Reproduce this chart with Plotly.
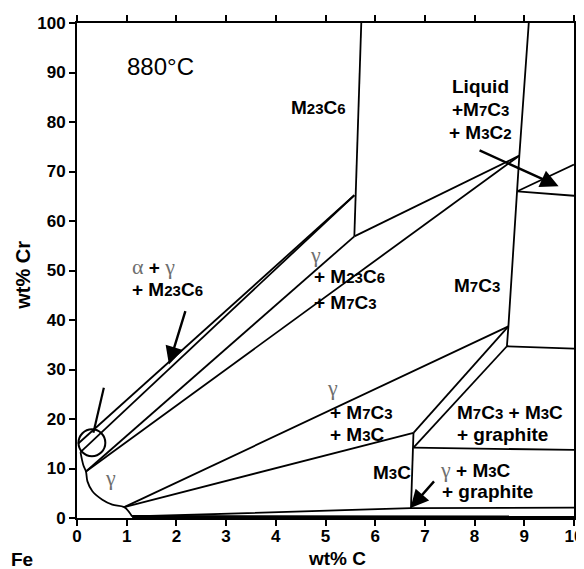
import plotly.graph_objects as go

# ---------------- data (wt% C, wt% Cr) ----------------
# M23C6 composition line
m23c6_x = [5.72, 5.58]
m23c6_y = [100, 56.9]
# alpha + gamma + M23C6 triangle sides
alpha_m23_x = [0.02, 5.58]
alpha_m23_y = [15.0, 65.2]
gamma_m23_x = [0.07, 5.58]
gamma_m23_y = [13.3, 65.2]
# gamma + M23C6 + M7C3 triangle sides
g_m23c6_x = [0.18, 5.58]
g_m23c6_y = [9.4, 56.9]
g_m7c3_x = [0.18, 8.90]
g_m7c3_y = [9.4, 73.2]
m23_m7_x = [5.58, 8.90]
m23_m7_y = [56.9, 73.2]
# M7C3 boundary (near vertical)
m7c3_x = [9.09, 8.90, 8.68, 8.65]
m7c3_y = [100, 73.2, 38.7, 34.7]
m7c3_low_x = [8.65, 10]
m7c3_low_y = [34.7, 34.2]
# Liquid + M7C3 + M3C2 triangle
liq_up_x = [8.86, 10]
liq_up_y = [66.0, 71.4]
liq_lo_x = [8.86, 10]
liq_lo_y = [66.0, 65.1]
# gamma phase boundary
gamma_x = [0.07, 0.10, 0.13, 0.18, 0.21, 0.31, 0.51, 0.71, 0.95, 1.11]
gamma_y = [13.3, 11.8, 10.6, 9.4, 7.4, 5.4, 3.7, 2.7, 2.2, 0.3]
# gamma + M7C3 + M3C triangle
g_m7_x = [0.95, 8.68]
g_m7_y = [2.2, 38.7]
g_m3c_x = [0.95, 6.77]
g_m3c_y = [2.2, 17.2]
m3c_m7_x = [6.77, 8.68]
m3c_m7_y = [17.2, 38.7]
m3c_m7b_x = [6.77, 8.65]
m3c_m7b_y = [14.2, 34.7]
graph_hi_x = [6.77, 10]
graph_hi_y = [14.2, 13.75]
m3c_x = [6.77, 6.72]
m3c_y = [17.2, 2.0]
bottom_x = [1.11, 6.72, 10]
bottom_y = [0.3, 2.0, 2.1]
wedge_x = [1.11, 10]
wedge_y = [0.3, 0.2]
# pointer to circle
pointer_x = [0.54, 0.33]
pointer_y = [26.3, 17.2]
circle_c = (0.30, 15.2)
circle_r = (0.27, 2.73)

# arrows: (tail, tip)
arrows = [((8.07, 74.4), (9.69, 67.0)),
          ((2.19, 42.1), (1.85, 31.0)),
          ((7.21, 7.7), (6.71, 2.0))]

x_ticks = list(range(0, 11))
y_ticks = list(range(0, 101, 10))

fig = go.Figure()
lines = [(m23c6_x, m23c6_y), (alpha_m23_x, alpha_m23_y), (gamma_m23_x, gamma_m23_y),
         (g_m23c6_x, g_m23c6_y), (g_m7c3_x, g_m7c3_y), (m23_m7_x, m23_m7_y),
         (m7c3_x, m7c3_y), (m7c3_low_x, m7c3_low_y), (liq_up_x, liq_up_y),
         (liq_lo_x, liq_lo_y), (g_m7_x, g_m7_y), (g_m3c_x, g_m3c_y),
         (m3c_m7_x, m3c_m7_y), (m3c_m7b_x, m3c_m7b_y), (graph_hi_x, graph_hi_y),
         (m3c_x, m3c_y), (bottom_x, bottom_y)]
for lx, ly in lines:
    fig.add_trace(go.Scatter(x=lx, y=ly, mode="lines",
                             line=dict(color="black", width=1.8), hoverinfo="skip"))
fig.add_trace(go.Scatter(x=gamma_x, y=gamma_y, mode="lines", line_shape="spline",
                         line=dict(color="black", width=1.8), hoverinfo="skip"))
fig.add_trace(go.Scatter(x=wedge_x, y=wedge_y, mode="lines",
                         line=dict(color="black", width=3), hoverinfo="skip"))
fig.add_trace(go.Scatter(x=pointer_x, y=pointer_y, mode="lines",
                         line=dict(color="black", width=2.2), hoverinfo="skip"))

fig.add_shape(type="circle", xref="x", yref="y",
              x0=circle_c[0] - circle_r[0], x1=circle_c[0] + circle_r[0],
              y0=circle_c[1] - circle_r[1], y1=circle_c[1] + circle_r[1],
              line=dict(color="black", width=2))

for (tx, ty), (hx, hy) in arrows:
    fig.add_annotation(x=hx, y=hy, ax=tx, ay=ty, xref="x", yref="y", axref="x", ayref="y",
                       text="", showarrow=True, arrowhead=2, arrowsize=1.5,
                       arrowwidth=2.4, arrowcolor="black")

SANS = "Liberation Sans, Arial, sans-serif"
SERIF = "Liberation Serif, Times New Roman, serif"
FS = 19


def sub(s):
    return "<span style='font-size:15px'>" + s + "</span>"


def gam(s="γ"):
    return ("<span style='font-family:Liberation Serif;font-weight:normal;"
            "color:#6e6e6e;font-size:22px'>" + s + "</span>")


labels = [
    (4.86, 82.9, "M" + sub("23") + "C" + sub("6"), "center"),
    (8.12, 87.1, "Liquid", "center"),
    (8.12, 82.5, "+M" + sub("7") + "C" + sub("3"), "center"),
    (8.12, 77.8, "+ M" + sub("3") + "C" + sub("2"), "center"),
    (1.07, 46.1, "+ M" + sub("23") + "C" + sub("6"), "left"),
    (4.72, 48.8, "+ M" + sub("23") + "C" + sub("6"), "left"),
    (4.72, 43.6, "+ M" + sub("7") + "C" + sub("3"), "left"),
    (8.04, 46.9, "M" + sub("7") + "C" + sub("3"), "center"),
    (5.06, 21.3, "+ M" + sub("7") + "C" + sub("3"), "left"),
    (5.06, 16.8, "+ M" + sub("3") + "C", "left"),
    (7.61, 21.3, "M" + sub("7") + "C" + sub("3") + " + M" + sub("3") + "C", "left"),
    (7.61, 16.8, "+ graphite", "left"),
    (6.33, 9.2, "M" + sub("3") + "C", "center"),
    (7.26, 9.8, gam() + " + M" + sub("3") + "C", "left"),
    (7.31, 5.3, "+ graphite", "left"),
    (1.07, 50.8, gam("α") + " + " + gam(), "left"),
]
for lx, ly, txt, anc in labels:
    fig.add_annotation(x=lx, y=ly, text=txt, showarrow=False, xanchor=anc,
                       font=dict(family=SANS, size=FS, color="black", weight="bold"))

for lx, ly in [(4.80, 53.2), (5.14, 26.3), (0.67, 8.1)]:
    fig.add_annotation(x=lx, y=ly, text="γ", showarrow=False,
                       font=dict(family=SERIF, size=22, color="#6e6e6e"))

fig.add_annotation(x=1.68, y=91.2, text="880°C", showarrow=False,
                   font=dict(family=SANS, size=24, color="black"))
fig.add_annotation(x=-0.11, y=-0.083, xref="paper", yref="paper", text="Fe", showarrow=False,
                   xanchor="center", yanchor="middle",
                   font=dict(family=SANS, size=19, color="black", weight="bold"))
fig.add_annotation(x=0.523, y=-0.082, xref="paper", yref="paper", text="wt% C", showarrow=False,
                   xanchor="center", yanchor="middle",
                   font=dict(family=SANS, size=19, color="black", weight="bold"))
fig.add_annotation(x=-0.108, y=0.49, xref="paper", yref="paper", text="wt% Cr", showarrow=False,
                   textangle=-90, xanchor="center", yanchor="middle",
                   font=dict(family=SANS, size=20, color="black", weight="bold"))

axis_common = dict(showline=True, linecolor="black", linewidth=2, mirror="ticks",
                   ticks="outside", ticklen=6, tickwidth=1.5, tickcolor="black",
                   showgrid=False, zeroline=False, automargin=False,
                   tickfont=dict(family=SANS, size=17, color="black", weight="bold"))
fig.update_xaxes(range=[0, 10], tickvals=x_ticks, ticklabelstandoff=-4, **axis_common)
fig.update_yaxes(range=[0, 100], tickvals=y_ticks, **axis_common)

# page body has an 8px default margin; size the figure so the plot area lands where intended
fig.update_layout(width=576, height=561, showlegend=False,
                  margin=dict(l=69, r=10, t=15, b=51),
                  plot_bgcolor="white", paper_bgcolor="white")

fig.write_html("out.html")
